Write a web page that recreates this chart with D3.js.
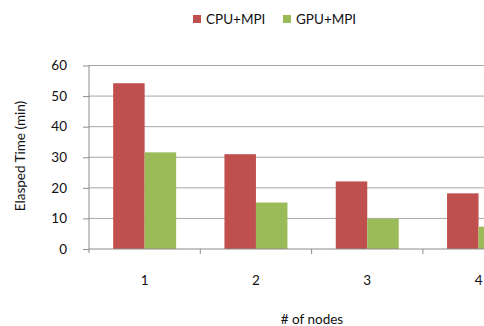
<!DOCTYPE html>
<html>
<head>
<meta charset="utf-8">
<script src="https://cdn.jsdelivr.net/npm/d3@7/dist/d3.min.js"></script>
<style>
  html, body { margin: 0; padding: 0; background: #fff; overflow: hidden; }
  text { font-family: Lato, "Open Sans", sans-serif; fill: #111; }
</style>
</head>
<body>
<svg id="chart" width="484" height="326"></svg>
<script>
const categories = ["1", "2", "3", "4"];
const seriesNames = ["CPU+MPI", "GPU+MPI"];
const cpuValues = [54.2, 31.0, 22.1, 18.2];
const gpuValues = [31.6, 15.2, 9.9, 7.3];
const yTicks = [0, 10, 20, 30, 40, 50, 60];
const colors = ["#C0504D", "#9BBB59"];

const svg = d3.select("#chart");
const x0 = 89, x1 = 89 + 4 * 111.3;
const yTop = 65.5, yBot = 249;

const x = d3.scaleBand().domain(categories).range([x0, x1]).paddingInner(0.434).paddingOuter(0.217);
const xs = d3.scaleBand().domain(seriesNames).range([0, x.bandwidth()]);
const y = d3.scaleLinear().domain([0, 60]).range([yBot, yTop]);

// gridlines
svg.append("g").selectAll("line").data(yTicks.filter(d => d > 0)).join("line")
  .attr("x1", x0).attr("x2", x1)
  .attr("y1", d => y(d)).attr("y2", d => y(d))
  .attr("stroke", "#a6a6a6").attr("stroke-width", 1);

// bars
const data = categories.map((c, i) => ({ c, vals: [cpuValues[i], gpuValues[i]] }));
const g = svg.append("g").selectAll("g").data(data).join("g")
  .attr("transform", d => `translate(${x(d.c)},0)`);
g.selectAll("rect").data(d => d.vals.map((v, j) => ({ v, j }))).join("rect")
  .attr("x", d => xs(seriesNames[d.j]))
  .attr("width", xs.bandwidth())
  .attr("y", d => y(d.v))
  .attr("height", d => y(0) - y(d.v))
  .attr("fill", d => colors[d.j]);

// y axis
const yAxis = d3.axisLeft(y).tickValues(yTicks).tickSize(6).tickPadding(16).tickFormat(d3.format("d"));
const ya = svg.append("g").attr("transform", `translate(${x0},0)`).call(yAxis);
ya.select(".domain").attr("stroke", "#8c8c8c").attr("d", `M0,${yTop}V${yBot + 4}`);
ya.selectAll(".tick line").attr("stroke", "#8c8c8c");
ya.selectAll(".tick text").style("font-size", "13.5px").style("font-family", "Lato, sans-serif").attr("fill", "#111");

// x axis
const xa = svg.append("g").attr("transform", `translate(0,${yBot})`);
xa.append("line").attr("x1", x0).attr("x2", x1).attr("y1", 0).attr("y2", 0).attr("stroke", "#8c8c8c");
const bounds = categories.map(c => x(c) - x.step() * x.paddingOuter()).concat([x1]).slice(1);
xa.selectAll(".xt").data(bounds).join("line").attr("class", "xt")
  .attr("x1", d => d).attr("x2", d => d).attr("y1", 0).attr("y2", 5).attr("stroke", "#8c8c8c");
xa.selectAll(".xl").data(categories).join("text").attr("class", "xl")
  .attr("x", d => x(d) + x.bandwidth() / 2).attr("y", 36)
  .attr("text-anchor", "middle").style("font-size", "13.5px").text(d => d);

// axis titles
svg.append("text").attr("x", 312).attr("y", 324).attr("text-anchor", "middle")
  .style("font-size", "13.5px").text("# of nodes");
svg.append("text").attr("transform", `translate(25,156) rotate(-90)`).attr("text-anchor", "middle")
  .style("font-size", "13.5px").text("Elasped Time (min)");

// legend
const lg = svg.append("g").selectAll("g").data(seriesNames).join("g")
  .attr("transform", (d, i) => `translate(193,${14}) translate(${i * 90},0)`);
lg.append("rect").attr("width", 8).attr("height", 8).attr("y", 1).attr("fill", (d, i) => colors[i]);
lg.append("text").attr("x", 13).attr("y", 10).style("font-size", "13.5px").text(d => d);
</script>
</body>
</html>
